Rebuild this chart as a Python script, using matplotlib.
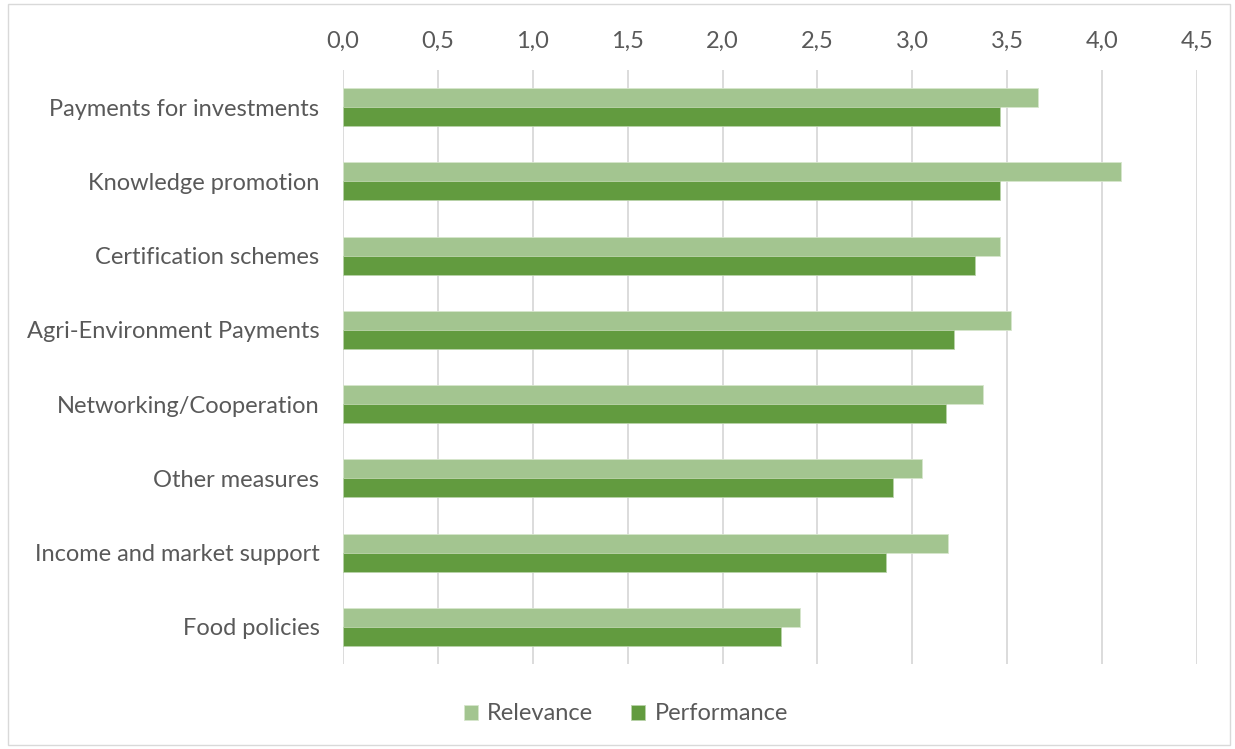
import matplotlib
matplotlib.use("Agg")
import matplotlib.pyplot as plt
import numpy as np
from matplotlib.patches import Rectangle

categories = ["Payments for investments", "Knowledge promotion", "Certification schemes",
              "Agri-Environment Payments", "Networking/Cooperation", "Other measures",
              "Income and market support", "Food policies"]
relevance = [3.66, 4.10, 3.46, 3.52, 3.37, 3.05, 3.19, 2.41]
performance = [3.46, 3.46, 3.33, 3.22, 3.18, 2.90, 2.86, 2.31]
xticks = [0.0, 0.5, 1.0, 1.5, 2.0, 2.5, 3.0, 3.5, 4.0, 4.5]
xticklabels = ["0,0", "0,5", "1,0", "1,5", "2,0", "2,5", "3,0", "3,5", "4,0", "4,5"]

plt.rcParams['font.family'] = ['Lato', 'DejaVu Sans']
W, H = 1235, 749
fig = plt.figure(figsize=(W / 100, H / 100), dpi=100)
ax = fig.add_axes([343 / W, 1 - 664 / H, (1197 - 343) / W, (664 - 70) / H])

n = len(categories)
y = np.arange(n)
h = 0.255
c_rel = "#A3C590"
c_perf = "#629B3F"
ax.barh(y - h / 2, relevance, height=h, color=c_rel, edgecolor="#d6e6cc", linewidth=0.6, label="Relevance", zorder=3)
ax.barh(y + h / 2, performance, height=h, color=c_perf, edgecolor="#b9d3a9", linewidth=0.6, label="Performance", zorder=3)

fs = 17
ax.set_ylim(n - 0.5, -0.5)
ax.set_xlim(0, 4.5)
ax.set_yticks(y)
ax.set_yticklabels(categories, fontsize=fs, color="#595959")
ax.set_xticks(xticks)
ax.set_xticklabels(xticklabels, fontsize=fs, color="#595959")
ax.xaxis.tick_top()
ax.tick_params(axis='x', length=0, pad=13)
ax.tick_params(axis='y', length=0, pad=17)
ax.grid(axis='x', color="#d9d9d9", linewidth=1.3, zorder=0)
for s in ax.spines.values():
    s.set_visible(False)

fig.patches.append(Rectangle((8 / W, 4 / H), (1230 - 8) / W, (745 - 4) / H, transform=fig.transFigure,
                             fill=False, edgecolor="#d9d9d9", linewidth=1))

leg = fig.legend(loc="center", bbox_to_anchor=(626 / W, 1 - 714 / H), ncol=2, frameon=False,
                 fontsize=fs, handlelength=0.6, handleheight=0.6, handletextpad=0.4, columnspacing=1.6)
for t in leg.get_texts():
    t.set_color("#595959")

fig.savefig("out.png", dpi=100)
